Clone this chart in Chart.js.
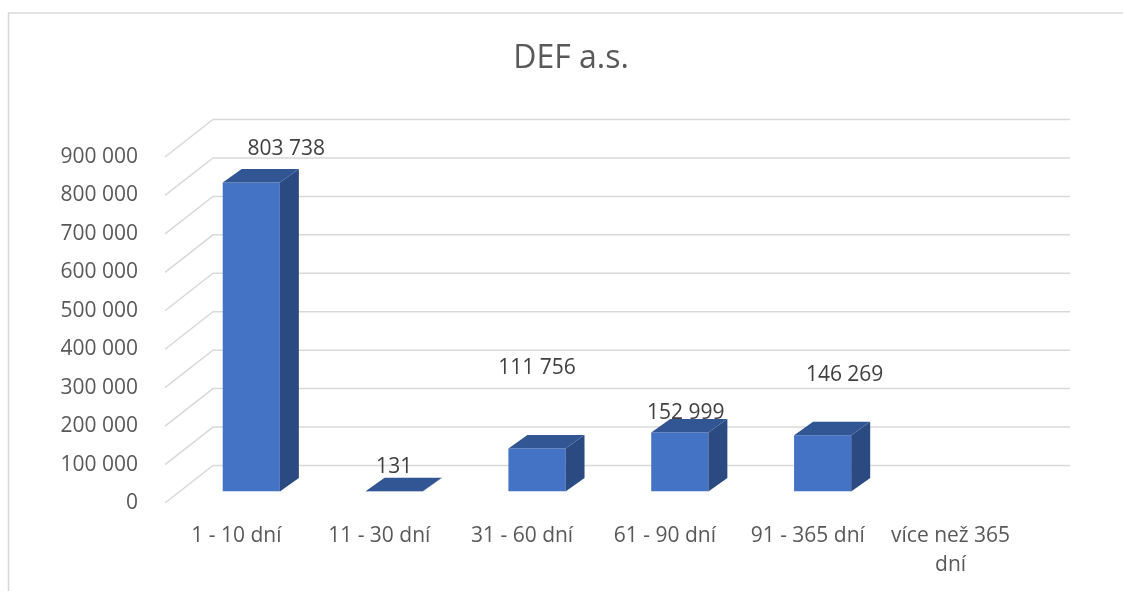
<!DOCTYPE html>
<html>
<head>
<meta charset="utf-8">
<script src="https://cdn.jsdelivr.net/npm/chart.js@4/dist/chart.umd.min.js"></script>
<style>
  html, body { margin: 0; padding: 0; background: #fff; }
  canvas { display: block; }
</style>
</head>
<body>
<canvas id="chart" width="1123" height="591"></canvas>
<script>
// Data
const categories = ['1 - 10 dní', '11 - 30 dní', '31 - 60 dní', '61 - 90 dní', '91 - 365 dní', ['více než 365', 'dní']];
const amounts = [803738, 131, 111756, 152999, 146269, null];
const yTicks = [0, 100000, 200000, 300000, 400000, 500000, 600000, 700000, 800000, 900000];
const chartTitle = 'DEF a.s.';

// Where Excel put each value label, relative to the top of its bar (px)
const labelNudge = [[35, -33], [0, -24], [0, -80], [6, -20], [22, -60], [0, 0]];

// 3D look
const WALL = { dx: 48, dy: -37.5 };   // depth of the floor / side wall
const BAR_FRONT = 0.31;               // how far back the bar fronts sit
const BAR_DEPTH = { dx: 19, dy: -13.5 };
const FRONT = '#4472C4';
const TOP = '#325694';
const SIDE = '#2B4A82';
const GRID = '#D9D9D9';

const fmt = v => String(v).replace(/\B(?=(\d{3})+(?!\d))/g, ' ');

const box3d = {
  id: 'box3d',
  beforeDraw(chart) {
    const { ctx, width, height } = chart;
    ctx.save();
    ctx.fillStyle = '#fff';
    ctx.fillRect(0, 0, width, height);
    ctx.strokeStyle = GRID;
    ctx.lineWidth = 1.5;
    ctx.beginPath();
    ctx.moveTo(8.5, height);
    ctx.lineTo(8.5, 13);
    ctx.lineTo(width, 13);
    ctx.stroke();
    // title, centred on the whole chart box rather than the plot
    ctx.fillStyle = '#595959';
    ctx.font = "32px 'Open Sans', sans-serif";
    ctx.textAlign = 'center';
    ctx.textBaseline = 'middle';
    ctx.fillText(chartTitle, 571, 59);
    ctx.restore();
  },
  beforeDatasetsDraw(chart) {
    const { ctx, chartArea: a, scales: { y } } = chart;
    // slanted wall lines + back wall gridlines
    ctx.save();
    ctx.strokeStyle = GRID;
    ctx.lineWidth = 1.5;
    y.ticks.forEach(t => {
      const py = y.getPixelForValue(t.value);
      ctx.beginPath();
      ctx.moveTo(a.left, py);
      ctx.lineTo(a.left + WALL.dx, py + WALL.dy);
      ctx.lineTo(a.right + WALL.dx, py + WALL.dy);
      ctx.stroke();
    });
    ctx.restore();
    // push the bar fronts back into the box
    ctx.save();
    ctx.translate(WALL.dx * BAR_FRONT, WALL.dy * BAR_FRONT);
  },
  afterDatasetsDraw(chart) {
    const { ctx } = chart;
    const meta = chart.getDatasetMeta(0);
    const d = BAR_DEPTH;
    meta.data.forEach((bar, i) => {
      if (amounts[i] == null) return;
      const { x, y, base, width } = bar.getProps(['x', 'y', 'base', 'width'], true);
      const l = x - width / 2, r = x + width / 2;
      // side face
      ctx.fillStyle = SIDE;
      ctx.beginPath();
      ctx.moveTo(r, y);
      ctx.lineTo(r + d.dx, y + d.dy);
      ctx.lineTo(r + d.dx, base + d.dy);
      ctx.lineTo(r, base);
      ctx.closePath();
      ctx.fill();
      // top face
      ctx.fillStyle = TOP;
      ctx.beginPath();
      ctx.moveTo(l, y);
      ctx.lineTo(r, y);
      ctx.lineTo(r + d.dx, y + d.dy);
      ctx.lineTo(l + d.dx, y + d.dy);
      ctx.closePath();
      ctx.fill();
    });
    ctx.restore();

    // value labels
    const ox = WALL.dx * BAR_FRONT, oy = WALL.dy * BAR_FRONT;
    ctx.save();
    ctx.fillStyle = '#404040';
    ctx.font = "21px 'Open Sans', sans-serif";
    ctx.textAlign = 'center';
    ctx.textBaseline = 'middle';
    meta.data.forEach((bar, i) => {
      if (amounts[i] == null) return;
      ctx.fillText(fmt(amounts[i]), bar.x + ox + labelNudge[i][0], bar.y + oy + labelNudge[i][1]);
    });
    ctx.restore();
  }
};

Chart.defaults.font.family = "'Open Sans', sans-serif";

new Chart(document.getElementById('chart'), {
  type: 'bar',
  data: {
    labels: categories,
    datasets: [{
      data: amounts,
      backgroundColor: FRONT,
      borderWidth: 0,
      categoryPercentage: 1,
      barPercentage: 0.4
    }]
  },
  options: {
    responsive: false,
    animation: false,
    layout: { padding: { left: 0, right: 101, top: 157, bottom: 0 } },
    plugins: {
      legend: { display: false },
      tooltip: { enabled: false },
      title: { display: false }
    },
    scales: {
      x: {
        grid: { display: false, drawTicks: false },
        border: { display: false },
        ticks: {
          color: '#595959',
          font: { size: 21, lineHeight: 1.36 },
          padding: 19,
          maxRotation: 0,
          autoSkip: false
        },
        afterFit: s => { s.height = 88; }
      },
      y: {
        min: 0,
        max: 900000,
        grid: { display: false, drawTicks: false },
        border: { display: false },
        afterBuildTicks: s => { s.ticks = yTicks.map(v => ({ value: v })); },
        ticks: {
          color: '#595959',
          font: { size: 21 },
          padding: 27,
          callback: v => fmt(v)
        },
        afterFit: s => { s.width = 165; }
      }
    }
  },
  plugins: [box3d]
});
</script>
</body>
</html>
